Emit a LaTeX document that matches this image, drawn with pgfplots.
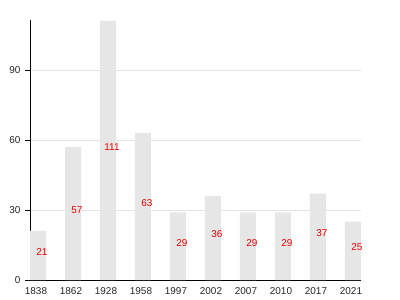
\documentclass[border=0pt]{standalone}
\usepackage{pgfplots}
\pgfplotsset{compat=1.18}
\usepackage{fontspec}
\setmainfont{Liberation Sans}
\definecolor{barfill}{RGB}{230,230,230}
\definecolor{gridc}{RGB}{228,228,228}
\definecolor{lab}{RGB}{235,0,0}
\begin{document}
\begin{tikzpicture}[x=1bp,y=1bp]
\begin{axis}[
  at={(0,0)}, anchor=south west,
  scale only axis,
  width=331bp, height=260bp,
  xmin=-0.2286, xmax=9.2286,
  ymin=0, ymax=111.4,
  axis x line=bottom, axis y line=left,
  axis line style={-, black, line width=0.8bp},
  xtick={0,...,9},
  xticklabels={1838,1862,1928,1958,1997,2002,2007,2010,2017,2021},
  x tick style={draw=none},
  ytick={0,30,60,90},
  y tick style={black, line width=0.8bp},
  tick align=outside,
  major tick length=5bp,
  ymajorgrids,
  grid style={gridc, line width=0.8bp},
  tick label style={font=\fontsize{10}{12}\selectfont, text=black!85},
  xticklabel style={xshift=-2bp, yshift=1bp},
  yticklabel style={xshift=-1bp},
  /pgf/number format/assume math mode=true,
  clip=false,
]
\addplot[ybar, bar width=16bp, fill=barfill, draw=none] coordinates {
  (0,21) (1,57) (2,111) (3,63) (4,29) (5,36) (6,29) (7,29) (8,37) (9,25)
};
\addplot[only marks, mark=none, point meta=explicit symbolic,
  nodes near coords,
  nodes near coords style={anchor=center, xshift=4bp, yshift=3.5bp, text=lab, font=\fontsize{10}{12}\selectfont}]
  coordinates {
  (0,10.5)[21] (1,28.5)[57] (2,55.5)[111] (3,31.5)[63] (4,14.5)[29]
  (5,18)[36] (6,14.5)[29] (7,14.5)[29] (8,18.5)[37] (9,12.5)[25]
};
\end{axis}
\path (-30bp,-20bp) rectangle (370bp,280bp);
\end{tikzpicture}
\end{document}
